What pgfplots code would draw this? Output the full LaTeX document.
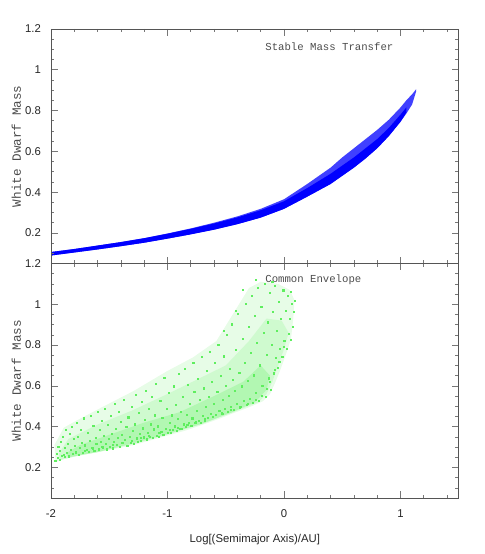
\documentclass[border=0pt]{standalone}
\usepackage{fontspec}
\setmainfont{Liberation Sans}
\setmonofont{Liberation Mono}
\usepackage{pgfplots}
\pgfplotsset{compat=1.18}

\definecolor{ptgreen}{RGB}{95,238,95}
\definecolor{axgray}{RGB}{85,85,85}

\pgfplotsset{
  panel/.style={
    scale only axis, width=306pt, height=176pt,
    xmin=-2, xmax=1.5, ymin=0.05, ymax=1.2,
    xtick={-2,-1,0,1}, minor xtick={-1.8,-1.6,-1.4,-1.2,-0.8,-0.6,-0.4,-0.2,0.2,0.4,0.6,0.8,1.2,1.4},
    ytick={0.2,0.4,0.6,0.8,1,1.2},
    minor ytick={0.05,0.1,0.15,0.25,0.3,0.35,0.45,0.5,0.55,0.65,0.7,0.75,0.85,0.9,0.95,1.05,1.1,1.15},
    tick align=inside,
    axis line style={axgray},
    every tick/.style={axgray!80, line width=0.5pt},
    major tick length=5pt, minor tick length=2.5pt,
    tick label style={font=\fontsize{8.5}{10}\selectfont, text=black!85},
    xticklabel style={yshift=-5pt},
    yticklabel style={xshift=-4pt},
    /pgf/number format/assume math mode=true,
    ylabel={White Dwarf Mass},
    ylabel style={at={(axis description cs:-0.085,0.5)}, anchor=center,
      font=\ttfamily\fontsize{9.5}{11}\selectfont, text=black!70},
    axis on top,
  },
  dots/.style={only marks, mark=square*, mark size=0.42pt, #1, mark options={draw=none, fill=#1}},
}
\tikzset{note/.style={anchor=west, font=\ttfamily\fontsize{8}{9}\selectfont, text=black!70}}

\begin{document}
\begin{tikzpicture}
\useasboundingbox (-38.25pt,-42pt) rectangle (325.5pt,373.75pt);

% lower panel: common envelope
\begin{axis}[panel, at={(0,0)}, anchor=south west,
  xlabel={Log[(Semimajor Axis)/AU]},
  xlabel style={at={(axis description cs:0.5,0)}, anchor=center, yshift=-31.5pt,
    font=\fontsize{8.5}{10}\selectfont, text=black!85},
]
% outer envelope of the scatter
\addplot[fill=ptgreen!15, draw=none] coordinates {
  (-1.96,0.225) (-1.9,0.24) (-1.72,0.262) (-1.5,0.285) (-1.29,0.31) (-1.1,0.34)
  (-1.01,0.355) (-0.85,0.38) (-0.72,0.405) (-0.55,0.44) (-0.44,0.465) (-0.3,0.495)
  (-0.18,0.525) (-0.12,0.56) (-0.08,0.61) (-0.03,0.68) (0.02,0.76) (0.06,0.83)
  (0.08,0.93) (0.09,1.02) (0.05,1.07) (-0.05,1.10) (-0.2,1.11) (-0.3,1.08)
  (-0.44,0.95) (-0.58,0.82) (-0.78,0.74) (-1.01,0.67) (-1.29,0.575) (-1.58,0.49)
  (-1.78,0.43) (-1.89,0.395) (-1.97,0.31)
};
% medium density
\addplot[fill=ptgreen!30, draw=none] coordinates {
  (-1.93,0.235) (-1.7,0.268) (-1.5,0.29) (-1.29,0.315) (-1.01,0.36) (-0.72,0.41)
  (-0.44,0.47) (-0.22,0.52) (-0.15,0.56) (-0.1,0.62) (-0.05,0.70) (0.0,0.78)
  (0.04,0.86) (-0.02,0.92) (-0.15,0.93) (-0.3,0.82) (-0.5,0.70) (-0.75,0.63)
  (-1.0,0.56) (-1.3,0.48) (-1.6,0.41) (-1.85,0.34) (-1.93,0.27)
};
% dense core
\addplot[fill=ptgreen!48, draw=none] coordinates {
  (-1.85,0.25) (-1.6,0.275) (-1.3,0.318) (-1.0,0.365) (-0.7,0.415) (-0.45,0.47)
  (-0.25,0.52) (-0.15,0.58) (-0.12,0.65) (-0.2,0.70) (-0.35,0.62) (-0.6,0.55)
  (-0.9,0.47) (-1.2,0.42) (-1.5,0.36) (-1.75,0.31) (-1.87,0.27)
};
% individual systems
\addplot[dots=ptgreen] coordinates {
  (-1.963,0.232) (-1.951,0.268) (-1.944,0.247) (-1.937,0.301) (-1.928,0.239) (-1.921,0.283)
  (-1.913,0.327) (-1.906,0.256) (-1.898,0.351) (-1.889,0.262) (-1.881,0.298) (-1.874,0.384)
  (-1.866,0.271) (-1.853,0.318) (-1.847,0.255) (-1.838,0.364) (-1.829,0.287) (-1.821,0.401)
  (-1.812,0.266) (-1.803,0.339) (-1.794,0.305) (-1.786,0.278) (-1.777,0.417) (-1.768,0.352)
  (-1.759,0.262) (-1.751,0.296) (-1.742,0.383) (-1.733,0.321) (-1.724,0.273) (-1.716,0.441)
  (-1.707,0.309) (-1.693,0.287) (-1.684,0.368) (-1.676,0.276) (-1.667,0.332) (-1.655,0.452)
  (-1.646,0.297) (-1.637,0.404) (-1.628,0.281) (-1.619,0.347) (-1.611,0.314) (-1.602,0.473)
  (-1.593,0.289) (-1.584,0.386) (-1.575,0.326) (-1.566,0.428) (-1.557,0.299) (-1.548,0.356)
  (-1.539,0.488) (-1.531,0.318) (-1.522,0.289) (-1.513,0.409) (-1.504,0.341) (-1.494,0.302)
  (-1.485,0.452) (-1.476,0.367) (-1.468,0.294) (-1.459,0.327) (-1.451,0.511) (-1.442,0.389)
  (-1.433,0.312) (-1.424,0.346) (-1.415,0.472) (-1.406,0.302) (-1.398,0.423) (-1.389,0.361)
  (-1.381,0.319) (-1.372,0.531) (-1.363,0.336) (-1.354,0.398) (-1.345,0.307) (-1.336,0.446)
  (-1.327,0.352) (-1.318,0.322) (-1.309,0.497) (-1.301,0.378) (-1.292,0.318) (-1.283,0.412)
  (-1.274,0.556) (-1.266,0.343) (-1.257,0.327) (-1.248,0.468) (-1.239,0.364) (-1.230,0.331)
  (-1.221,0.521) (-1.212,0.392) (-1.204,0.348) (-1.195,0.433) (-1.186,0.577) (-1.177,0.338)
  (-1.168,0.371) (-1.159,0.489) (-1.151,0.352) (-1.142,0.412) (-1.133,0.548) (-1.124,0.346)
  (-1.115,0.387) (-1.106,0.456) (-1.098,0.612) (-1.089,0.356) (-1.080,0.402) (-1.071,0.351)
  (-1.062,0.527) (-1.053,0.373) (-1.045,0.443) (-1.036,0.362) (-1.027,0.638) (-1.018,0.391)
  (-1.009,0.488) (-1.000,0.372) (-0.991,0.567) (-0.982,0.419) (-0.974,0.371) (-0.965,0.456)
  (-0.956,0.384) (-0.947,0.598) (-0.938,0.402) (-0.929,0.509) (-0.921,0.378) (-0.912,0.437)
  (-0.903,0.658) (-0.894,0.391) (-0.885,0.472) (-0.876,0.389) (-0.867,0.548) (-0.858,0.412)
  (-0.849,0.683) (-0.841,0.401) (-0.832,0.458) (-0.823,0.606) (-0.814,0.421) (-0.805,0.511)
  (-0.796,0.404) (-0.787,0.441) (-0.779,0.712) (-0.770,0.572) (-0.761,0.418) (-0.752,0.476)
  (-0.743,0.636) (-0.734,0.429) (-0.725,0.531) (-0.716,0.421) (-0.707,0.741) (-0.698,0.452)
  (-0.689,0.588) (-0.680,0.431) (-0.672,0.498) (-0.663,0.676) (-0.654,0.442) (-0.645,0.547)
  (-0.636,0.769) (-0.627,0.463) (-0.618,0.619) (-0.609,0.448) (-0.600,0.512) (-0.591,0.712)
  (-0.582,0.458) (-0.573,0.573) (-0.564,0.802) (-0.555,0.479) (-0.546,0.651) (-0.537,0.468)
  (-0.528,0.534) (-0.519,0.745) (-0.510,0.488) (-0.501,0.602) (-0.492,0.849) (-0.483,0.471)
  (-0.474,0.552) (-0.465,0.683) (-0.456,0.498) (-0.447,0.902) (-0.438,0.631) (-0.429,0.481)
  (-0.420,0.577) (-0.411,0.776) (-0.402,0.512) (-0.393,0.952) (-0.384,0.663) (-0.375,0.498)
  (-0.366,0.598) (-0.357,0.832) (-0.348,0.527) (-0.339,0.712) (-0.330,1.003) (-0.321,0.508)
  (-0.312,0.623) (-0.303,0.891) (-0.294,0.538) (-0.285,0.761) (-0.276,1.042) (-0.267,0.517)
  (-0.258,0.652) (-0.249,0.943) (-0.240,0.566) (-0.231,0.812) (-0.222,1.081) (-0.213,0.529)
  (-0.204,0.701) (-0.195,0.987) (-0.186,0.601) (-0.177,0.862) (-0.168,1.102) (-0.159,0.548)
  (-0.150,0.752) (-0.141,0.912) (-0.132,0.637) (-0.123,1.058) (-0.114,0.583) (-0.105,0.801)
  (-0.096,0.962) (-0.087,0.662) (-0.078,1.091) (-0.069,0.738) (-0.060,0.871) (-0.051,0.689)
  (-0.042,1.012) (-0.033,0.781) (-0.024,0.927) (-0.015,0.742) (-0.006,1.069) (0.003,0.823)
  (0.012,0.968) (0.021,0.782) (0.030,1.041) (0.039,0.857) (0.048,0.931) (0.057,0.828)
  (0.066,1.002) (0.075,0.889) (0.084,0.962) (0.093,1.018)
  (-1.88,0.251) (-1.79,0.270) (-1.71,0.280) (-1.64,0.292) (-1.56,0.301) (-1.47,0.310)
  (-1.39,0.321) (-1.31,0.331) (-1.23,0.346) (-1.16,0.355) (-1.07,0.368) (-0.98,0.385)
  (-0.91,0.395) (-0.83,0.408) (-0.76,0.425) (-0.68,0.437) (-0.61,0.450) (-0.53,0.462)
  (-0.46,0.481) (-0.38,0.492) (-0.31,0.512) (-0.24,0.531) (-0.19,0.552) (-0.15,0.587)
  (-0.12,0.620) (-0.08,0.680) (-0.04,0.720) (0.00,0.790)
  (-0.35,1.07) (-0.24,1.12) (-0.10,1.11) (0.06,1.06) (-0.41,0.97) (-0.52,0.87)
};
\node[note] at (axis cs:-0.2,1.122) {Common Envelope};
\end{axis}

% upper panel: stable mass transfer
\begin{axis}[panel, at={(0,176pt)}, anchor=south west, xticklabels={}]
% full width of the band
\addplot[fill=blue!75, draw=none] coordinates {
  (-1.99,0.107) (-1.8,0.121) (-1.6,0.138) (-1.4,0.155) (-1.2,0.174) (-1.0,0.197)
  (-0.8,0.222) (-0.6,0.250) (-0.4,0.281) (-0.2,0.318) (0.0,0.365) (0.2,0.44)
  (0.4,0.52) (0.5,0.57) (0.6,0.615) (0.7,0.66) (0.8,0.705) (0.9,0.755) (1.0,0.815)
  (1.05,0.85) (1.1,0.88) (1.135,0.905)
  (1.135,0.895) (1.1,0.83) (1.05,0.785) (1.0,0.745) (0.9,0.675) (0.8,0.615)
  (0.7,0.565) (0.6,0.52) (0.5,0.48) (0.4,0.44) (0.2,0.378) (0.0,0.318) (-0.2,0.275)
  (-0.4,0.243) (-0.6,0.216) (-0.8,0.193) (-1.0,0.172) (-1.2,0.152) (-1.4,0.135)
  (-1.6,0.119) (-1.8,0.104) (-1.99,0.090)
};
% dense core of the band
\addplot[fill=blue, draw=none] coordinates {
  (-1.99,0.107) (-1.8,0.121) (-1.6,0.138) (-1.4,0.155) (-1.2,0.174) (-1.0,0.196)
  (-0.8,0.220) (-0.6,0.246) (-0.4,0.276) (-0.2,0.311) (0.0,0.355) (0.2,0.42)
  (0.4,0.49) (0.5,0.53) (0.6,0.57) (0.7,0.615) (0.8,0.66) (0.9,0.715) (1.0,0.78)
  (1.05,0.815)
  (1.05,0.79) (1.0,0.745) (0.9,0.675) (0.8,0.615) (0.7,0.565) (0.6,0.52) (0.5,0.48)
  (0.4,0.44) (0.2,0.378) (0.0,0.318) (-0.2,0.275) (-0.4,0.243) (-0.6,0.216)
  (-0.8,0.193) (-1.0,0.172) (-1.2,0.152) (-1.4,0.135) (-1.6,0.119) (-1.8,0.104)
  (-1.99,0.090)
};
\node[note] at (axis cs:-0.2,1.115) {Stable Mass Transfer};
\end{axis}
\end{tikzpicture}
\end{document}
